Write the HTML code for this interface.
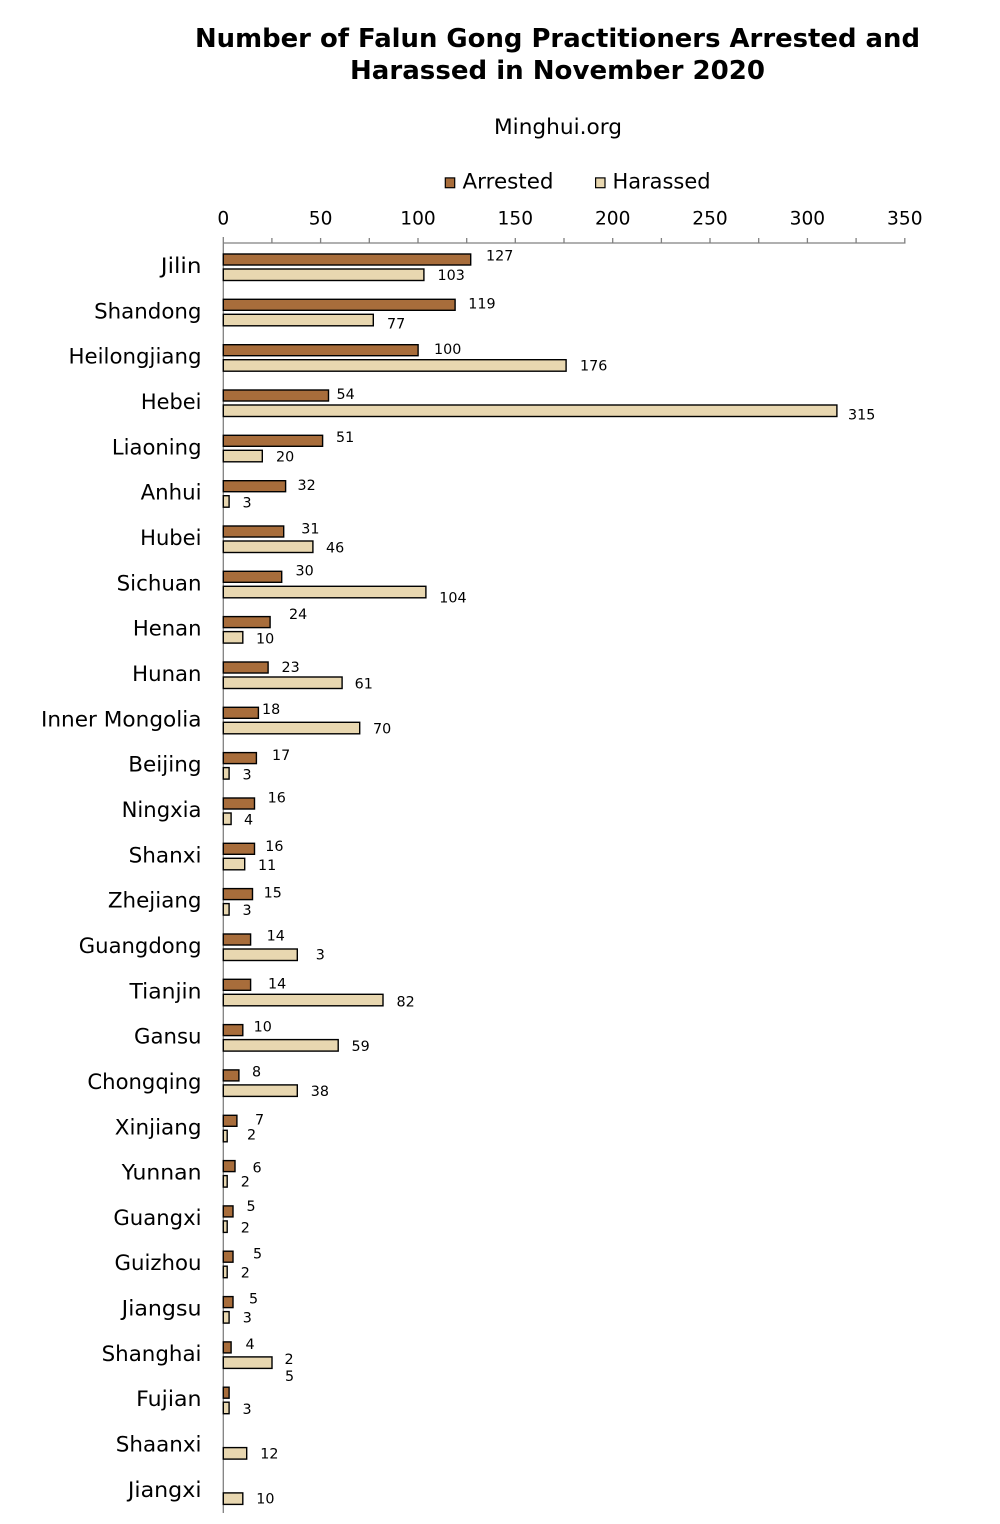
<!DOCTYPE html>
<html>
<head>
<meta charset="utf-8">
<style>
html,body{margin:0;padding:0;background:#fff;}
svg{display:block;}
text{font-family:"DejaVu Sans","Liberation Sans",sans-serif;fill:#000;}
.cat{font-size:21px;text-anchor:end;}
.dl{font-size:14.3px;}
.tk{font-size:18.6px;text-anchor:middle;}
</style>
</head>
<body>
<svg width="1000" height="1524" viewBox="0 0 1000 1524" xmlns="http://www.w3.org/2000/svg">
<!-- Title -->
<text x="557.5" y="47" text-anchor="middle" style="font-size:26px;font-weight:bold" textLength="725" lengthAdjust="spacingAndGlyphs">Number of Falun Gong Practitioners Arrested and</text>
<text x="557.5" y="79" text-anchor="middle" style="font-size:26px;font-weight:bold" textLength="415" lengthAdjust="spacingAndGlyphs">Harassed in November 2020</text>
<text x="558" y="134" text-anchor="middle" style="font-size:21px" textLength="128" lengthAdjust="spacingAndGlyphs">Minghui.org</text>
<!-- Legend -->
<rect x="445.3" y="177.9" width="9.4" height="9.8" fill="#A86D3B" stroke="#000" stroke-width="1.2"/>
<text x="462.5" y="188.3" style="font-size:21px" textLength="91" lengthAdjust="spacingAndGlyphs">Arrested</text>
<rect x="595.6" y="177.9" width="9.4" height="9.8" fill="#E8D7B0" stroke="#000" stroke-width="1.2"/>
<text x="612.5" y="188.3" style="font-size:21px" textLength="98" lengthAdjust="spacingAndGlyphs">Harassed</text>
<!-- Axis -->
<g stroke="#808080" stroke-width="1.3" fill="none">
<line x1="223.3" y1="243" x2="905.5" y2="243"/>
<line x1="223.3" y1="237" x2="223.3" y2="1513"/>
<path d="M271.9 243V238M320.6 243V238M369.3 243V238M418 243V238M466.7 243V238M515.3 243V238M564 243V238M612.7 243V238M661.4 243V238M710 243V238M758.7 243V238M807.4 243V238M856.1 243V238M904.8 243V238"/>
</g>
<g class="tk">
<text x="223.3" y="224.5" class="tk">0</text>
<text x="320.6" y="224.5" class="tk">50</text>
<text x="418" y="224.5" class="tk">100</text>
<text x="515.3" y="224.5" class="tk">150</text>
<text x="612.7" y="224.5" class="tk">200</text>
<text x="710" y="224.5" class="tk">250</text>
<text x="807.4" y="224.5" class="tk">300</text>
<text x="904.8" y="224.5" class="tk">350</text>
</g>
<!-- Category labels -->
<g>
<text class="cat" x="201.5" y="273" textLength="40.7" lengthAdjust="spacingAndGlyphs">Jilin</text>
<text class="cat" x="201.5" y="318.3" textLength="107.4" lengthAdjust="spacingAndGlyphs">Shandong</text>
<text class="cat" x="201.5" y="363.7" textLength="133" lengthAdjust="spacingAndGlyphs">Heilongjiang</text>
<text class="cat" x="201.5" y="409" textLength="60.6" lengthAdjust="spacingAndGlyphs">Hebei</text>
<text class="cat" x="201.5" y="454.3" textLength="89.6" lengthAdjust="spacingAndGlyphs">Liaoning</text>
<text class="cat" x="201.5" y="499.7" textLength="60.9" lengthAdjust="spacingAndGlyphs">Anhui</text>
<text class="cat" x="201.5" y="545" textLength="61.4" lengthAdjust="spacingAndGlyphs">Hubei</text>
<text class="cat" x="201.5" y="590.3" textLength="84.9" lengthAdjust="spacingAndGlyphs">Sichuan</text>
<text class="cat" x="201.5" y="635.6" textLength="68.6" lengthAdjust="spacingAndGlyphs">Henan</text>
<text class="cat" x="201.5" y="681" textLength="69.3" lengthAdjust="spacingAndGlyphs">Hunan</text>
<text class="cat" x="201.5" y="726.3" textLength="160.5" lengthAdjust="spacingAndGlyphs">Inner Mongolia</text>
<text class="cat" x="201.5" y="771.6" textLength="73.2" lengthAdjust="spacingAndGlyphs">Beijing</text>
<text class="cat" x="201.5" y="817" textLength="79.9" lengthAdjust="spacingAndGlyphs">Ningxia</text>
<text class="cat" x="201.5" y="862.3" textLength="72.9" lengthAdjust="spacingAndGlyphs">Shanxi</text>
<text class="cat" x="201.5" y="907.6" textLength="93.6" lengthAdjust="spacingAndGlyphs">Zhejiang</text>
<text class="cat" x="201.5" y="953" textLength="122.7" lengthAdjust="spacingAndGlyphs">Guangdong</text>
<text class="cat" x="201.5" y="998.3" textLength="72" lengthAdjust="spacingAndGlyphs">Tianjin</text>
<text class="cat" x="201.5" y="1043.6" textLength="67.5" lengthAdjust="spacingAndGlyphs">Gansu</text>
<text class="cat" x="201.5" y="1088.9" textLength="114.1" lengthAdjust="spacingAndGlyphs">Chongqing</text>
<text class="cat" x="201.5" y="1134.3" textLength="86.7" lengthAdjust="spacingAndGlyphs">Xinjiang</text>
<text class="cat" x="201.5" y="1179.6" textLength="79.9" lengthAdjust="spacingAndGlyphs">Yunnan</text>
<text class="cat" x="201.5" y="1224.9" textLength="88.1" lengthAdjust="spacingAndGlyphs">Guangxi</text>
<text class="cat" x="201.5" y="1270.2" textLength="87" lengthAdjust="spacingAndGlyphs">Guizhou</text>
<text class="cat" x="201.5" y="1315.6" textLength="79.8" lengthAdjust="spacingAndGlyphs">Jiangsu</text>
<text class="cat" x="201.5" y="1360.9" textLength="99.9" lengthAdjust="spacingAndGlyphs">Shanghai</text>
<text class="cat" x="201.5" y="1406.2" textLength="65.3" lengthAdjust="spacingAndGlyphs">Fujian</text>
<text class="cat" x="201.5" y="1451.6" textLength="85.7" lengthAdjust="spacingAndGlyphs">Shaanxi</text>
<text class="cat" x="201.5" y="1496.9" textLength="73.6" lengthAdjust="spacingAndGlyphs">Jiangxi</text>
</g>
<!-- Bars: x0=223.3, scale 1.948/unit; band start 243 + i*45.33 -->
<g stroke="#000" stroke-width="1.4">
<!-- Arrested -->
<g fill="#A86D3B">
<rect x="223.3" y="254" height="11" width="247.4"/>
<rect x="223.3" y="299.3" height="11" width="231.8"/>
<rect x="223.3" y="344.7" height="11" width="194.8"/>
<rect x="223.3" y="390" height="11" width="105.2"/>
<rect x="223.3" y="435.3" height="11" width="99.3"/>
<rect x="223.3" y="480.7" height="11" width="62.3"/>
<rect x="223.3" y="526" height="11" width="60.4"/>
<rect x="223.3" y="571.3" height="11" width="58.4"/>
<rect x="223.3" y="616.6" height="11" width="46.8"/>
<rect x="223.3" y="662" height="11" width="44.8"/>
<rect x="223.3" y="707.3" height="11" width="35.1"/>
<rect x="223.3" y="752.6" height="11" width="33.1"/>
<rect x="223.3" y="798" height="11" width="31.2"/>
<rect x="223.3" y="843.3" height="11" width="31.2"/>
<rect x="223.3" y="888.6" height="11" width="29.2"/>
<rect x="223.3" y="934" height="11" width="27.3"/>
<rect x="223.3" y="979.3" height="11" width="27.3"/>
<rect x="223.3" y="1024.6" height="11" width="19.5"/>
<rect x="223.3" y="1069.9" height="11" width="15.6"/>
<rect x="223.3" y="1115.3" height="11" width="13.6"/>
<rect x="223.3" y="1160.6" height="11" width="11.7"/>
<rect x="223.3" y="1205.9" height="11" width="9.7"/>
<rect x="223.3" y="1251.2" height="11" width="9.7"/>
<rect x="223.3" y="1296.6" height="11" width="9.7"/>
<rect x="223.3" y="1341.9" height="11" width="7.8"/>
<rect x="223.3" y="1387.2" height="11" width="5.8"/>
</g>
<!-- Harassed -->
<g fill="#E8D7B0">
<rect x="223.3" y="269" height="11.5" width="200.6"/>
<rect x="223.3" y="314.3" height="11.5" width="150"/>
<rect x="223.3" y="359.7" height="11.5" width="342.8"/>
<rect x="223.3" y="405" height="11.5" width="613.6"/>
<rect x="223.3" y="450.3" height="11.5" width="39"/>
<rect x="223.3" y="495.7" height="11.5" width="5.8"/>
<rect x="223.3" y="541" height="11.5" width="89.6"/>
<rect x="223.3" y="586.3" height="11.5" width="202.6"/>
<rect x="223.3" y="631.6" height="11.5" width="19.5"/>
<rect x="223.3" y="677" height="11.5" width="118.8"/>
<rect x="223.3" y="722.3" height="11.5" width="136.4"/>
<rect x="223.3" y="767.6" height="11.5" width="5.8"/>
<rect x="223.3" y="813" height="11.5" width="7.8"/>
<rect x="223.3" y="858.3" height="11.5" width="21.4"/>
<rect x="223.3" y="903.6" height="11.5" width="5.8"/>
<rect x="223.3" y="949" height="11.5" width="74"/>
<rect x="223.3" y="994.3" height="11.5" width="159.7"/>
<rect x="223.3" y="1039.6" height="11.5" width="114.9"/>
<rect x="223.3" y="1084.9" height="11.5" width="74"/>
<rect x="223.3" y="1130.3" height="11.5" width="3.9"/>
<rect x="223.3" y="1175.6" height="11.5" width="3.9"/>
<rect x="223.3" y="1220.9" height="11.5" width="3.9"/>
<rect x="223.3" y="1266.2" height="11.5" width="3.9"/>
<rect x="223.3" y="1311.6" height="11.5" width="5.8"/>
<rect x="223.3" y="1356.9" height="11.5" width="48.7"/>
<rect x="223.3" y="1402.2" height="11.5" width="5.8"/>
<rect x="223.3" y="1447.6" height="11.5" width="23.4"/>
<rect x="223.3" y="1492.9" height="11.5" width="19.5"/>
</g>
</g>
<!-- Data labels -->
<g class="dl">
<text class="dl" x="486" y="260.7">127</text>
<text class="dl" x="437.5" y="280">103</text>
<text class="dl" x="468.3" y="308.3">119</text>
<text class="dl" x="387" y="328.5">77</text>
<text class="dl" x="434" y="354">100</text>
<text class="dl" x="580" y="370.7">176</text>
<text class="dl" x="336.5" y="399">54</text>
<text class="dl" x="848" y="419.3">315</text>
<text class="dl" x="336" y="442">51</text>
<text class="dl" x="276" y="461.7">20</text>
<text class="dl" x="297.5" y="490">32</text>
<text class="dl" x="242.5" y="507.7">3</text>
<text class="dl" x="301.3" y="533.3">31</text>
<text class="dl" x="326" y="552.3">46</text>
<text class="dl" x="295.5" y="575.7">30</text>
<text class="dl" x="439.3" y="602.7">104</text>
<text class="dl" x="289" y="619">24</text>
<text class="dl" x="256" y="643.3">10</text>
<text class="dl" x="281.5" y="672">23</text>
<text class="dl" x="354.6" y="688.3">61</text>
<text class="dl" x="262" y="714">18</text>
<text class="dl" x="373" y="733.3">70</text>
<text class="dl" x="272" y="760">17</text>
<text class="dl" x="242.5" y="779.3">3</text>
<text class="dl" x="267.6" y="802.7">16</text>
<text class="dl" x="244" y="824.3">4</text>
<text class="dl" x="265.3" y="851">16</text>
<text class="dl" x="258" y="870">11</text>
<text class="dl" x="263.6" y="897.7">15</text>
<text class="dl" x="242.5" y="915">3</text>
<text class="dl" x="266.6" y="940.3">14</text>
<text class="dl" x="315.8" y="959.3">3</text>
<text class="dl" x="268" y="988.3">14</text>
<text class="dl" x="396.5" y="1006.7">82</text>
<text class="dl" x="253.6" y="1031.7">10</text>
<text class="dl" x="351.5" y="1051">59</text>
<text class="dl" x="252" y="1076.7">8</text>
<text class="dl" x="310.8" y="1096">38</text>
<text class="dl" x="255" y="1124.3">7</text>
<text class="dl" x="247" y="1139.3">2</text>
<text class="dl" x="252.5" y="1172.3">6</text>
<text class="dl" x="240.8" y="1186.7">2</text>
<text class="dl" x="246.5" y="1211">5</text>
<text class="dl" x="240.8" y="1232.3">2</text>
<text class="dl" x="253" y="1258.3">5</text>
<text class="dl" x="240.8" y="1277.7">2</text>
<text class="dl" x="249" y="1303.3">5</text>
<text class="dl" x="242.8" y="1322.7">3</text>
<text class="dl" x="245.5" y="1349">4</text>
<text class="dl" x="284.5" y="1364">2</text>
<text class="dl" x="285" y="1381">5</text>
<text class="dl" x="242.5" y="1414">3</text>
<text class="dl" x="260.3" y="1458.3">12</text>
<text class="dl" x="256.3" y="1503.3">10</text>
</g>
</svg>
</body>
</html>
